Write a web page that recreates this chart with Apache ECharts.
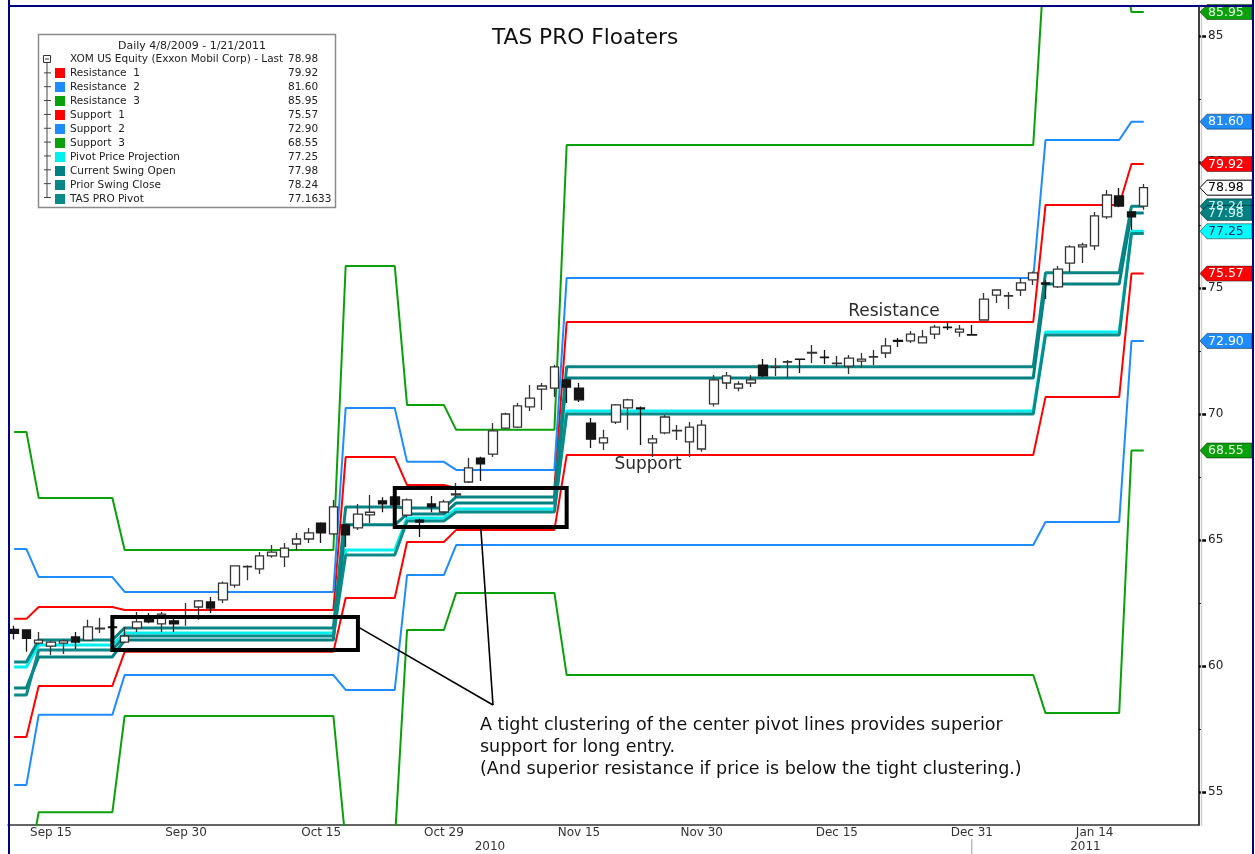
<!DOCTYPE html>
<html>
<head>
<meta charset="utf-8">
<title>TAS PRO Floaters</title>
<script src="https://cdn.jsdelivr.net/npm/echarts@6/dist/echarts.min.js"></script>
<style>
  html, body { margin: 0; padding: 0; background: #fff; }
  #chart { width: 1255px; height: 854px; }
</style>
</head>
<body>
<div id="chart"></div>
<script>
// trading days on the chart, Sep 10 2010 .. Jan 21 2011
const days = [
  '2010-09-10','2010-09-13','2010-09-14','2010-09-15','2010-09-16','2010-09-17','2010-09-20','2010-09-21','2010-09-22','2010-09-23','2010-09-24','2010-09-27','2010-09-28','2010-09-29','2010-09-30',
  '2010-10-01','2010-10-04','2010-10-05','2010-10-06','2010-10-07','2010-10-08','2010-10-11','2010-10-12','2010-10-13','2010-10-14','2010-10-15','2010-10-18','2010-10-19','2010-10-20','2010-10-21','2010-10-22','2010-10-25','2010-10-26','2010-10-27','2010-10-28','2010-10-29',
  '2010-11-01','2010-11-02','2010-11-03','2010-11-04','2010-11-05','2010-11-08','2010-11-09','2010-11-10','2010-11-11','2010-11-12','2010-11-15','2010-11-16','2010-11-17','2010-11-18','2010-11-19','2010-11-22','2010-11-23','2010-11-24','2010-11-26','2010-11-29','2010-11-30',
  '2010-12-01','2010-12-02','2010-12-03','2010-12-06','2010-12-07','2010-12-08','2010-12-09','2010-12-10','2010-12-13','2010-12-14','2010-12-15','2010-12-16','2010-12-17','2010-12-20','2010-12-21','2010-12-22','2010-12-23','2010-12-27','2010-12-28','2010-12-29','2010-12-30','2010-12-31',
  '2011-01-03','2011-01-04','2011-01-05','2011-01-06','2011-01-07','2011-01-10','2011-01-11','2011-01-12','2011-01-13','2011-01-14','2011-01-18','2011-01-19','2011-01-20','2011-01-21'
];
// empty days at the right edge of the plot
const padDays = ['2011-01-24','2011-01-25','2011-01-26','2011-01-27'];

const tickDays = ['2010-09-15','2010-09-30','2010-10-15','2010-10-29','2010-11-15','2010-11-30','2010-12-15','2010-12-31','2011-01-14'];
const tickLabels = ['Sep 15','Sep 30','Oct 15','Oct 29','Nov 15','Nov 30','Dec 15','Dec 31','Jan 14'];
const minorTickDays = ['2010-09-22','2010-10-08','2010-10-22','2010-11-08','2010-11-22','2010-12-08','2010-12-23','2011-01-07','2011-01-24'];
const yTickValues = [55, 60, 65, 70, 75, 80, 85];
const yMinorTickValues = [57.5, 62.5, 67.5, 72.5, 77.5, 82.5];

// XOM daily prices
const opens = [
  61.45,61.43,60.91,60.79,60.91,61.15,61.03,61.47,61.55,60.95,
  61.51,61.90,61.67,61.79,61.90,62.34,62.54,62.62,63.21,63.93,
  63.85,64.37,64.33,64.84,65.04,65.67,65.24,65.60,65.48,66.00,
  66.55,66.71,65.99,65.79,66.43,66.11,66.79,67.30,68.25,68.41,
  69.44,69.48,70.28,70.99,71.03,71.35,71.03,69.64,68.85,69.68,
  70.24,70.24,68.85,69.25,69.33,68.89,68.61,70.40,71.23,71.03,
  71.23,71.94,71.85,72.06,72.18,72.42,72.26,72.00,71.90,72.10,
  72.26,72.42,72.92,72.90,72.82,73.17,73.45,73.25,73.15,73.73,
  74.72,74.68,74.92,75.32,75.20,75.04,75.99,76.63,76.67,77.82,
  78.65,78.02,78.25
];
const highs = [
  61.60,61.45,61.35,61.00,61.05,61.35,61.83,61.90,61.70,61.55,
  62.14,62.10,62.14,61.95,62.50,62.62,62.74,63.35,64.00,64.00,
  64.52,64.80,64.88,65.28,65.48,65.70,66.59,65.65,66.43,66.79,
  66.70,66.75,66.65,65.85,66.75,66.60,67.26,68.25,68.30,69.64,
  70.05,70.44,71.15,71.23,71.95,71.40,71.23,69.84,69.37,70.40,
  70.60,70.30,69.17,69.96,69.56,69.68,69.76,71.55,71.67,71.30,
  71.55,72.18,72.22,72.14,72.20,72.74,72.54,72.30,72.34,72.42,
  72.54,73.02,73.02,73.29,73.33,73.53,73.69,73.53,73.53,74.80,
  74.95,74.84,75.40,75.65,75.32,75.87,76.70,76.79,78.02,78.89,
  78.97,78.05,79.13
];
const lows = [
  61.05,60.56,60.85,60.44,60.48,60.67,61.00,61.31,61.30,60.90,
  61.35,61.70,61.35,61.35,61.60,61.83,62.10,62.50,63.10,63.40,
  63.65,64.30,63.93,64.60,64.88,64.88,65.20,64.72,65.40,65.67,
  66.10,66.30,65.90,65.12,66.10,66.05,66.70,67.26,67.34,68.29,
  69.40,69.44,70.12,70.16,70.67,70.44,70.48,68.65,68.57,69.60,
  69.37,68.77,68.29,69.20,68.97,68.29,68.50,70.30,70.99,70.90,
  71.07,71.47,71.51,71.43,71.63,72.02,71.98,71.87,71.59,71.83,
  71.94,72.22,72.66,72.82,72.80,72.98,73.33,73.06,73.10,73.70,
  74.40,74.17,74.68,75.12,74.56,75.00,75.63,75.99,76.51,77.74,
  78.20,77.30,78.10
];
const closes = [
  61.30,61.10,61.03,60.95,61.00,60.95,61.55,61.50,61.52,61.19,
  61.75,61.75,62.06,61.67,61.95,62.58,62.30,63.29,63.97,63.95,
  64.37,64.52,64.68,65.04,65.28,65.28,66.31,65.20,66.03,66.10,
  66.43,66.39,66.59,65.71,66.31,66.51,66.83,67.86,68.02,69.33,
  70.00,70.32,70.63,71.11,71.87,71.07,70.56,69.00,69.05,70.36,
  70.56,70.20,69.01,69.88,69.35,69.48,69.56,71.35,71.51,71.19,
  71.35,71.51,71.87,72.08,72.17,72.44,72.24,72.02,72.22,72.18,
  72.28,72.70,72.88,73.17,73.06,73.45,73.43,73.37,73.13,74.56,
  74.92,74.70,75.20,75.60,75.15,75.75,76.63,76.71,77.86,78.69,
  78.25,77.82,78.98
];

// TAS PRO levels, one value per day
const resistance1 = [
  61.87,61.87,
  62.34,62.34,62.34,62.34,62.34,62.34,62.34,
  62.22,62.22,62.22,62.22,62.22,62.22,62.22,62.22,62.22,
  62.22,62.22,62.22,62.22,62.22,62.22,62.22,62.22,62.22,
  68.29,68.29,68.29,68.29,68.29,
  67.18,67.18,67.18,67.18,
  67.06,67.06,67.06,67.06,67.06,67.06,67.06,67.06,67.06,
  73.65,73.65,73.65,73.65,73.65,73.65,73.65,73.65,73.65,73.65,
  73.65,73.65,73.65,73.65,73.65,73.65,73.65,73.65,73.65,73.65,
  73.65,73.65,73.65,73.65,73.65,73.65,73.65,73.65,73.65,73.65,
  73.65,73.65,73.65,73.65,73.65,73.65,73.65,73.65,73.65,
  78.29,78.29,78.29,78.29,78.29,78.29,78.29,
  79.92,79.92
];
const resistance2 = [
  64.64,64.64,
  63.53,63.53,63.53,63.53,63.53,63.53,63.53,
  62.94,62.94,62.94,62.94,62.94,62.94,62.94,62.94,62.94,
  62.94,62.94,62.94,62.94,62.94,62.94,62.94,62.94,62.94,
  70.24,70.24,70.24,70.24,70.24,
  68.10,68.10,68.10,68.10,
  67.78,67.78,67.78,67.78,67.78,67.78,67.78,67.78,67.78,
  75.40,75.40,75.40,75.40,75.40,75.40,75.40,75.40,75.40,75.40,
  75.40,75.40,75.40,75.40,75.40,75.40,75.40,75.40,75.40,75.40,
  75.40,75.40,75.40,75.40,75.40,75.40,75.40,75.40,75.40,75.40,
  75.40,75.40,75.40,75.40,75.40,75.40,75.40,75.40,75.40,
  80.87,80.87,80.87,80.87,80.87,80.87,80.87,
  81.60,81.60
];
const resistance3 = [
  69.29,69.29,
  66.67,66.67,66.67,66.67,66.67,66.67,66.67,
  64.60,64.60,64.60,64.60,64.60,64.60,64.60,64.60,64.60,
  64.60,64.60,64.60,64.60,64.60,64.60,64.60,64.60,64.60,
  75.87,75.87,75.87,75.87,75.87,
  70.36,70.36,70.36,70.36,
  69.37,69.37,69.37,69.37,69.37,69.37,69.37,69.37,69.37,
  80.67,80.67,80.67,80.67,80.67,80.67,80.67,80.67,80.67,80.67,
  80.67,80.67,80.67,80.67,80.67,80.67,80.67,80.67,80.67,80.67,
  80.67,80.67,80.67,80.67,80.67,80.67,80.67,80.67,80.67,80.67,
  80.67,80.67,80.67,80.67,80.67,80.67,80.67,80.67,80.67,
  88.70,88.70,88.70,88.70,88.70,88.70,88.70,
  85.95,85.95
];
const support1 = [
  57.18,57.18,
  59.21,59.21,59.21,59.21,59.21,59.21,59.21,
  60.56,60.56,60.56,60.56,60.56,60.56,60.56,60.56,60.56,
  60.56,60.56,60.56,60.56,60.56,60.56,60.56,60.56,60.56,
  62.70,62.70,62.70,62.70,62.70,
  64.92,64.92,64.92,64.92,
  65.40,65.40,65.40,65.40,65.40,65.40,65.40,65.40,65.40,
  68.37,68.37,68.37,68.37,68.37,68.37,68.37,68.37,68.37,68.37,
  68.37,68.37,68.37,68.37,68.37,68.37,68.37,68.37,68.37,68.37,
  68.37,68.37,68.37,68.37,68.37,68.37,68.37,68.37,68.37,68.37,
  68.37,68.37,68.37,68.37,68.37,68.37,68.37,68.37,68.37,
  70.67,70.67,70.67,70.67,70.67,70.67,70.67,
  75.57,75.57
];
const support2 = [
  55.28,55.28,
  58.06,58.06,58.06,58.06,58.06,58.06,58.06,
  59.64,59.64,59.64,59.64,59.64,59.64,59.64,59.64,59.64,
  59.64,59.64,59.64,59.64,59.64,59.64,59.64,59.64,59.64,
  59.05,59.05,59.05,59.05,59.05,
  63.61,63.61,63.61,63.61,
  64.80,64.80,64.80,64.80,64.80,64.80,64.80,64.80,64.80,
  64.80,64.80,64.80,64.80,64.80,64.80,64.80,64.80,64.80,64.80,
  64.80,64.80,64.80,64.80,64.80,64.80,64.80,64.80,64.80,64.80,
  64.80,64.80,64.80,64.80,64.80,64.80,64.80,64.80,64.80,64.80,
  64.80,64.80,64.80,64.80,64.80,64.80,64.80,64.80,64.80,
  65.71,65.71,65.71,65.71,65.71,65.71,65.71,
  72.90,72.90
];
const support3 = [
  51.50,51.50,
  54.20,54.20,54.20,54.20,54.20,54.20,54.20,
  58.02,58.02,58.02,58.02,58.02,58.02,58.02,58.02,58.02,
  58.02,58.02,58.02,58.02,58.02,58.02,58.02,58.02,58.02,
  53.00,53.00,53.00,53.00,53.00,
  61.43,61.43,61.43,61.43,
  62.90,62.90,62.90,62.90,62.90,62.90,62.90,62.90,62.90,
  59.64,59.64,59.64,59.64,59.64,59.64,59.64,59.64,59.64,59.64,
  59.64,59.64,59.64,59.64,59.64,59.64,59.64,59.64,59.64,59.64,
  59.64,59.64,59.64,59.64,59.64,59.64,59.64,59.64,59.64,59.64,
  59.64,59.64,59.64,59.64,59.64,59.64,59.64,59.64,59.64,
  58.13,58.13,58.13,58.13,58.13,58.13,58.13,
  68.55,68.55
];
const pivotProjection = [
  59.96,59.96,
  60.83,60.83,60.83,60.83,60.83,60.83,60.83,
  61.31,61.31,61.31,61.31,61.31,61.31,61.31,61.31,61.31,
  61.31,61.31,61.31,61.31,61.31,61.31,61.31,61.31,61.31,
  64.60,64.60,64.60,64.60,64.60,
  65.87,65.87,65.87,65.87,
  66.23,66.23,66.23,66.23,66.23,66.23,66.23,66.23,66.23,
  70.12,70.12,70.12,70.12,70.12,70.12,70.12,70.12,70.12,70.12,
  70.12,70.12,70.12,70.12,70.12,70.12,70.12,70.12,70.12,70.12,
  70.12,70.12,70.12,70.12,70.12,70.12,70.12,70.12,70.12,70.12,
  70.12,70.12,70.12,70.12,70.12,70.12,70.12,70.12,70.12,
  73.25,73.25,73.25,73.25,73.25,73.25,73.25,
  77.25,77.25
];
const swingOpen = [
  59.13,59.13,
  60.36,60.36,60.36,60.36,60.36,60.36,60.36,
  61.03,61.03,61.03,61.03,61.03,61.03,61.03,61.03,61.03,
  61.03,61.03,61.03,61.03,61.03,61.03,61.03,61.03,61.03,
  65.60,65.60,65.60,65.60,65.60,
  66.03,66.03,66.03,66.03,
  66.47,66.47,66.47,66.47,66.47,66.47,66.47,66.47,66.47,
  71.43,71.43,71.43,71.43,71.43,71.43,71.43,71.43,71.43,71.43,
  71.43,71.43,71.43,71.43,71.43,71.43,71.43,71.43,71.43,71.43,
  71.43,71.43,71.43,71.43,71.43,71.43,71.43,71.43,71.43,71.43,
  71.43,71.43,71.43,71.43,71.43,71.43,71.43,71.43,71.43,
  75.16,75.16,75.16,75.16,75.16,75.16,75.16,
  77.98,77.98
];
const priorSwingClose = [
  60.16,60.16,
  61.03,61.03,61.03,61.03,61.03,61.03,61.03,
  61.51,61.51,61.51,61.51,61.51,61.51,61.51,61.51,61.51,
  61.51,61.51,61.51,61.51,61.51,61.51,61.51,61.51,61.51,
  66.31,66.31,66.31,66.31,66.31,
  66.27,66.27,66.27,66.27,
  66.71,66.71,66.71,66.71,66.71,66.71,66.71,66.71,66.71,
  71.87,71.87,71.87,71.87,71.87,71.87,71.87,71.87,71.87,71.87,
  71.87,71.87,71.87,71.87,71.87,71.87,71.87,71.87,71.87,71.87,
  71.87,71.87,71.87,71.87,71.87,71.87,71.87,71.87,71.87,71.87,
  71.87,71.87,71.87,71.87,71.87,71.87,71.87,71.87,71.87,
  75.60,75.60,75.60,75.60,75.60,75.60,75.60,
  78.24,78.24
];
const tasPivot = [
  58.85,58.85,
  60.63,60.63,60.63,60.63,60.63,60.63,60.63,
  61.19,61.19,61.19,61.19,61.19,61.19,61.19,61.19,61.19,
  61.19,61.19,61.19,61.19,61.19,61.19,61.19,61.19,61.19,
  64.40,64.40,64.40,64.40,64.40,
  65.75,65.75,65.75,65.75,
  66.11,66.11,66.11,66.11,66.11,66.11,66.11,66.11,66.11,
  70.00,70.00,70.00,70.00,70.00,70.00,70.00,70.00,70.00,70.00,
  70.00,70.00,70.00,70.00,70.00,70.00,70.00,70.00,70.00,70.00,
  70.00,70.00,70.00,70.00,70.00,70.00,70.00,70.00,70.00,70.00,
  70.00,70.00,70.00,70.00,70.00,70.00,70.00,70.00,70.00,
  73.13,73.13,73.13,73.13,73.13,73.13,73.13,
  77.1633,77.1633
];

// the two "tight clustering" boxes: [first day, last day, top price, bottom price]
const clusterBoxes = [
  ['2010-09-22', '2010-10-20', 61.94, 60.63],
  ['2010-10-25', '2010-11-12', 67.06, 65.52]
];
// callout lines from the boxes to the note: [[day, price], [day, price]]
const calloutLines = [
  [['2010-10-20', 61.55], ['2010-11-04', 58.45]],
  [['2010-11-03', 65.52], ['2010-11-04', 58.45]]
];

[opens, highs, lows, closes, resistance1, resistance2, resistance3, support1, support2, support3,
 pivotProjection, swingOpen, priorSwingClose, tasPivot].forEach((a, k) => {
  if (a.length !== days.length) throw new Error('array ' + k + ' has ' + a.length + ' values');
});

const FONT = '"DejaVu Sans", Verdana, sans-serif';
const GRID = { left: 8, right: 56, top: 7, bottom: 29 };
const cats = days.concat(padDays);
const candles = days.map((d, i) => [opens[i], closes[i], lows[i], highs[i]]);
const priceName = 'XOM US Equity (Exxon Mobil Corp) - Last';

const levels = [
  { name: 'Resistance  1', data: resistance1, color: '#ff0000', width: 2, z: 2 },
  { name: 'Resistance  2', data: resistance2, color: '#1e8cff', width: 2, z: 2 },
  { name: 'Resistance  3', data: resistance3, color: '#0aa00a', width: 2, z: 2 },
  { name: 'Support  1', data: support1, color: '#ff0000', width: 2, z: 2 },
  { name: 'Support  2', data: support2, color: '#1e8cff', width: 2, z: 2 },
  { name: 'Support  3', data: support3, color: '#0aa00a', width: 2, z: 2 },
  { name: 'Pivot Price Projection', data: pivotProjection, color: '#00f0f0', width: 3, z: 3 },
  { name: 'Current Swing Open', data: swingOpen, color: '#008080', width: 3, z: 3 },
  { name: 'Prior Swing Close', data: priorSwingClose, color: '#0a8585', width: 3, z: 3 },
  { name: 'TAS PRO Pivot', data: tasPivot, color: '#0b8a8a', width: 3, z: 3 }
];

const legendValue = {};
legendValue[priceName] = closes[closes.length - 1].toFixed(2);
levels.forEach(l => {
  const v = l.data[l.data.length - 1];
  legendValue[l.name] = l.name === 'TAS PRO Pivot' ? v.toFixed(4) : v.toFixed(2);
});

const chart = echarts.init(document.getElementById('chart'));

const series = levels.map(l => ({
  type: 'line',
  name: l.name,
  data: l.data,
  color: l.color,
  symbol: 'none',
  showSymbol: false,
  clip: true,
  silent: true,
  z: l.z,
  itemStyle: { color: l.color },
  lineStyle: { color: l.color, width: l.width }
}));

series.push({
  type: 'candlestick',
  name: priceName,
  data: candles,
  barWidth: 9,
  z: 5,
  silent: true,
  itemStyle: {
    color: '#ffffff', color0: '#151515',
    borderColor: '#333333', borderColor0: '#151515', borderColorDoji: '#222222',
    borderWidth: 1.3
  },
  markArea: {
    silent: true,
    z: 10,
    itemStyle: { color: 'rgba(0,0,0,0)', borderColor: '#000', borderWidth: 4 },
    data: clusterBoxes.map(b => [{ xAxis: b[0], yAxis: b[2] }, { xAxis: b[1], yAxis: b[3] }])
  },
  markLine: {
    silent: true,
    z: 10,
    symbol: ['none', 'none'],
    label: { show: false },
    lineStyle: { color: '#000', width: 1.6, type: 'solid' },
    data: calloutLines.map(l => [{ coord: l[0] }, { coord: l[1] }])
  }
});

chart.setOption({
  animation: false,
  backgroundColor: '#fff',
  textStyle: { fontFamily: FONT },
  title: {
    text: 'TAS PRO Floaters',
    left: 492, top: 27, padding: 0,
    textStyle: { fontFamily: FONT, fontSize: 21.7, fontWeight: 'normal', color: '#111' }
  },
  grid: Object.assign({ containLabel: false, show: false }, GRID),
  legend: {
    orient: 'vertical',
    left: 55, top: 53.5, padding: 0,
    itemGap: 3, itemWidth: 10, itemHeight: 10,
    icon: 'rect',
    selectedMode: false,
    z: 12,
    itemStyle: { borderWidth: 0 },
    data: [{ name: priceName, itemStyle: { color: '#ffffff', borderWidth: 0 } }]
      .concat(levels.map(l => ({ name: l.name, itemStyle: { color: l.color, borderWidth: 0 } }))),
    formatter: name => '{n|' + name + '}{v|' + legendValue[name] + '}',
    textStyle: {
      fontFamily: FONT, fontSize: 10.5, color: '#222',
      rich: {
        n: { width: 218, fontFamily: FONT, fontSize: 10.5, color: '#222', lineHeight: 11.85 },
        v: { fontFamily: FONT, fontSize: 10.5, color: '#222', lineHeight: 11.85 }
      }
    }
  },
  xAxis: {
    type: 'category',
    data: cats,
    boundaryGap: true,
    axisLine: { lineStyle: { color: '#333', width: 1.5 } },
    axisTick: {
      alignWithLabel: true,
      interval: (i, v) => tickDays.includes(v) || minorTickDays.includes(v),
      length: 4,
      lineStyle: { color: '#333', width: 1.2 }
    },
    axisLabel: {
      interval: (i, v) => tickDays.includes(v),
      formatter: v => tickLabels[tickDays.indexOf(v)] || '',
      color: '#333', fontFamily: FONT, fontSize: 12, margin: 2
    },
    splitLine: { show: false }
  },
  yAxis: [{
    type: 'value',
    position: 'right',
    min: 53.69, max: 86.15,
    splitLine: { show: false },
    axisLine: { show: true, lineStyle: { color: '#000', width: 1.5 } },
    axisTick: { show: true, customValues: yTickValues, length: 7, lineStyle: { color: '#000', width: 2.5 } },
    axisLabel: { customValues: yTickValues, color: '#222', fontFamily: FONT, fontSize: 12, margin: 9 }
  }, {
    type: 'value',
    position: 'right',
    min: 53.69, max: 86.15,
    splitLine: { show: false },
    axisLine: { show: false },
    axisLabel: { show: false },
    axisTick: { show: true, customValues: yMinorTickValues, length: 3, lineStyle: { color: '#000', width: 1 } }
  }],
  series: series
});

// price tags on the right axis, drawn at the last value of each line
const W = chart.getWidth();
const axisX = W - GRID.right;
const yPix = v => chart.convertToPixel({ yAxisIndex: 0 }, v);
const last = a => a[a.length - 1];

const tags = [
  { v: last(resistance3), fill: '#0aa00a', ink: '#eaffea' },
  { v: last(resistance2), fill: '#1e8cff', ink: '#ffffff' },
  { v: last(resistance1), fill: '#ff0000', ink: '#ffffff' },
  { v: last(closes), fill: '#ffffff', ink: '#000000', stroke: '#000' },
  { v: last(priorSwingClose), fill: '#008080', ink: '#d8f4f4' },
  { v: last(swingOpen), fill: '#008080', ink: '#d8f4f4' },
  { v: last(pivotProjection), fill: '#00ffff', ink: '#003366' },
  { v: last(support1), fill: '#ff0000', ink: '#ffffff' },
  { v: last(support2), fill: '#1e8cff', ink: '#ffffff' },
  { v: last(support3), fill: '#0aa00a', ink: '#eaffea' }
];

const graphic = [];
const navy = '#000080';

// outer frame
graphic.push({ type: 'line', z: 30, shape: { x1: 9, y1: 0, x2: 9, y2: 854 }, style: { stroke: navy, lineWidth: 2 } });
graphic.push({ type: 'line', z: 30, shape: { x1: 8, y1: 6, x2: 1254, y2: 6 }, style: { stroke: navy, lineWidth: 2 } });
graphic.push({ type: 'line', z: 30, shape: { x1: 1253, y1: 0, x2: 1253, y2: 854 }, style: { stroke: navy, lineWidth: 2 } });
graphic.push({ type: 'line', z: 1, shape: { x1: axisX + 2.5, y1: 6, x2: axisX + 2.5, y2: 826 }, style: { stroke: '#cfcfcf', lineWidth: 1.5 } });

tags.forEach(t => {
  const y = yPix(t.v);
  graphic.push({
    type: 'polygon', z: 20,
    shape: { points: [[axisX + 1, y], [axisX + 8, y - 7.5], [1252, y - 7.5], [1252, y + 7.5], [axisX + 8, y + 7.5]] },
    style: { fill: t.fill, stroke: t.stroke || 'rgba(0,0,0,0.45)', lineWidth: 1 }
  });
  graphic.push({
    type: 'text', z: 21,
    x: axisX + 9, y: y + 0.5,
    style: { text: t.v.toFixed(2), fill: t.ink, fontFamily: FONT, fontSize: 12.5, textAlign: 'left', textVerticalAlign: 'middle' }
  });
});

// legend box, header and tree marks
graphic.push({ type: 'rect', z: 10, shape: { x: 38.5, y: 34.5, width: 297, height: 173 }, style: { fill: '#fff', stroke: '#8a8a8a', lineWidth: 1.5 } });
graphic.push({ type: 'text', z: 11, x: 192, y: 46, style: { text: 'Daily 4/8/2009 - 1/21/2011', fill: '#222', fontFamily: FONT, fontSize: 11, textAlign: 'center', textVerticalAlign: 'middle' } });
graphic.push({ type: 'rect', z: 11, shape: { x: 43.5, y: 55.5, width: 7, height: 7 }, style: { fill: '#fff', stroke: '#333', lineWidth: 1 } });
graphic.push({ type: 'line', z: 11, shape: { x1: 45, y1: 59, x2: 49, y2: 59 }, style: { stroke: '#333', lineWidth: 1 } });
graphic.push({ type: 'line', z: 11, shape: { x1: 47, y1: 63, x2: 47, y2: 197.5 }, style: { stroke: '#444', lineWidth: 1 } });
for (let k = 1; k <= 10; k++) {
  const ry = 59 + k * 13.85;
  graphic.push({ type: 'line', z: 11, shape: { x1: 44, y1: ry, x2: 51, y2: ry }, style: { stroke: '#444', lineWidth: 1 } });
}

// year row under the date labels
const xSep = chart.convertToPixel({ xAxisIndex: 0 }, '2010-12-31');
graphic.push({ type: 'line', z: 5, shape: { x1: xSep, y1: 839, x2: xSep, y2: 854 }, style: { stroke: '#999', lineWidth: 1 } });
graphic.push({ type: 'text', z: 5, x: (GRID.left + xSep) / 2, y: 847, style: { text: '2010', fill: '#333', fontFamily: FONT, fontSize: 12, textAlign: 'center', textVerticalAlign: 'middle' } });
graphic.push({ type: 'text', z: 5, x: (xSep + axisX) / 2, y: 847, style: { text: '2011', fill: '#333', fontFamily: FONT, fontSize: 12, textAlign: 'center', textVerticalAlign: 'middle' } });

// notes
graphic.push({ type: 'text', z: 15, x: 894, y: 312, style: { text: 'Resistance', fill: '#2b2b2b', fontFamily: FONT, fontSize: 17, textAlign: 'center', textVerticalAlign: 'middle' } });
graphic.push({ type: 'text', z: 15, x: 648, y: 465, style: { text: 'Support', fill: '#2b2b2b', fontFamily: FONT, fontSize: 17, textAlign: 'center', textVerticalAlign: 'middle' } });
graphic.push({
  type: 'text', z: 15, x: 480, y: 714,
  style: {
    text: 'A tight clustering of the center pivot lines provides superior\nsupport for long entry.\n(And superior resistance if price is below the tight clustering.)',
    fill: '#111', fontFamily: FONT, fontSize: 17.5, lineHeight: 22, textAlign: 'left', textVerticalAlign: 'top'
  }
});

chart.setOption({ graphic: graphic });
</script>
</body>
</html>
